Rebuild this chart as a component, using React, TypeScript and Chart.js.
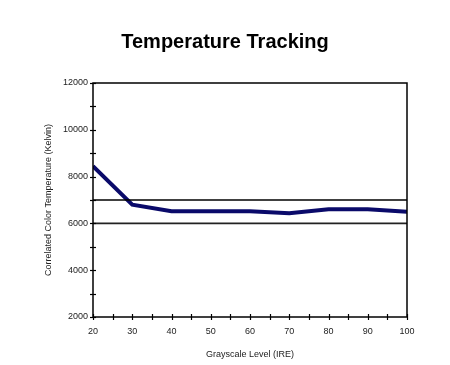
import React, { useEffect, useRef } from "react";
import { Chart, registerables } from "chart.js";

Chart.register(...registerables);

const levels = [20, 30, 40, 50, 60, 70, 80, 90, 100];
const temperatures = [8450, 6800, 6520, 6520, 6520, 6430, 6600, 6600, 6500];
const upperRef = [7000, 7000];
const lowerRef = [6000, 6000];
const refLevels = [20, 100];
const titleText = "Temperature Tracking";
const yTitle = "Correlated Color Temperature (Kelvin)";
const xTitle = "Grayscale Level (IRE)";

const FONT = "'Liberation Sans', Arial, sans-serif";

const tickPlugin = {
  id: "tickMarks",
  afterDraw(chart: any) {
    const { ctx, chartArea } = chart;
    const x = chart.scales.x;
    const y = chart.scales.y;
    ctx.save();
    ctx.strokeStyle = "#000";
    ctx.lineWidth = 1.5;
    ctx.strokeRect(chartArea.left, chartArea.top, chartArea.right - chartArea.left, chartArea.bottom - chartArea.top);
    ctx.lineWidth = 1.2;
    y.ticks.forEach((t: any) => {
      const py = Math.round(y.getPixelForValue(t.value)) + 0.5;
      ctx.beginPath();
      ctx.moveTo(chartArea.left - 3, py);
      ctx.lineTo(chartArea.left + 3, py);
      ctx.stroke();
    });
    x.ticks.forEach((t: any) => {
      const px = Math.round(x.getPixelForValue(t.value)) + 0.5;
      ctx.beginPath();
      ctx.moveTo(px, chartArea.bottom - 3);
      ctx.lineTo(px, chartArea.bottom + 3);
      ctx.stroke();
    });
    ctx.restore();
  },
};

export default function App() {
  const ref = useRef<HTMLCanvasElement | null>(null);
  useEffect(() => {
    if (!ref.current) return;
    const chart = new Chart(ref.current, {
      type: "line",
      data: {
        datasets: [
          {
            label: "Upper",
            data: refLevels.map((l, i) => ({ x: l, y: upperRef[i] })),
            borderColor: "#000",
            borderWidth: 1.3,
            pointRadius: 0,
          },
          {
            label: "Lower",
            data: refLevels.map((l, i) => ({ x: l, y: lowerRef[i] })),
            borderColor: "#222",
            borderWidth: 1.6,
            pointRadius: 0,
          },
          {
            label: "CCT",
            data: levels.map((l, i) => ({ x: l, y: temperatures[i] })),
            borderColor: "#0a0a6a",
            borderWidth: 4,
            pointRadius: 0,
            tension: 0,
          },
        ],
      },
      options: {
        animation: false,
        responsive: true,
        maintainAspectRatio: false,
        layout: { padding: { left: 43, right: 43, top: 0, bottom: 3 } },
        plugins: {
          legend: { display: false },
          tooltip: { enabled: false },
          title: {
            display: true,
            text: titleText,
            color: "#000",
            font: { family: FONT, size: 20, weight: "bold" },
            padding: { top: 30, bottom: 29 },
          },
        },
        scales: {
          x: {
            type: "linear",
            min: 20,
            max: 100,
            grid: { display: false, tickLength: 0 },
            border: { display: false },
            ticks: {
              stepSize: 5,
              autoSkip: false,
              maxRotation: 0,
              color: "#222",
              font: { family: FONT, size: 9 },
              padding: 9,
              callback: (v: any) => (Number(v) % 10 === 0 ? String(v) : ""),
            },
            title: {
              display: true,
              text: xTitle,
              color: "#222",
              font: { family: FONT, size: 9 },
              padding: { top: 4, bottom: 2 },
            },
            afterFit: (s: any) => {
              s.height = 45;
            },
          },
          y: {
            min: 2000,
            max: 12000,
            grid: { display: false, tickLength: 0 },
            border: { display: false },
            ticks: {
              stepSize: 1000,
              autoSkip: false,
              color: "#222",
              font: { family: FONT, size: 9 },
              padding: 5,
              callback: (v: any) => (Number(v) % 2000 === 0 ? String(v) : ""),
            },
            title: {
              display: true,
              text: yTitle,
              color: "#222",
              font: { family: FONT, size: 9 },
              padding: { top: 0, bottom: 0 },
            },
            afterFit: (s: any) => {
              s.width = 50;
            },
          },
        },
      },
      plugins: [tickPlugin],
    });
    return () => chart.destroy();
  }, []);
  return (
    <div style={{ position: "absolute", left: 0, top: 0, width: 450, height: 365, background: "#fff" }}>
      <canvas ref={ref} />
    </div>
  );
}
